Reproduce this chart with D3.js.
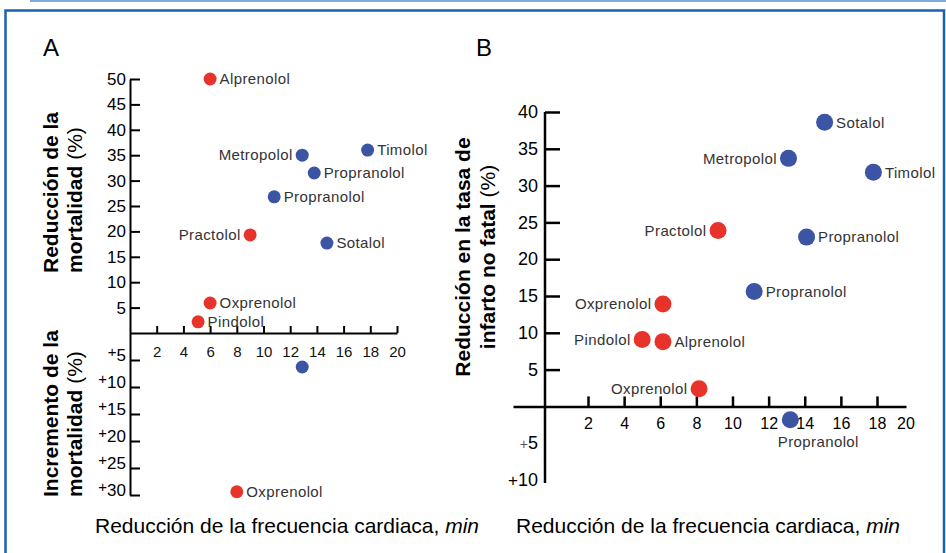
<!DOCTYPE html>
<html>
<head>
<meta charset="utf-8">
<script src="https://cdn.jsdelivr.net/npm/d3@7"></script>
<style>
  body { margin: 0; background: #fff; }
  text { font-family: "Liberation Sans", Arial, sans-serif; }
</style>
</head>
<body>
<div id="chart"></div>
<script>
// panel A: mortality vs heart rate reduction
const drugsA = ["Alprenolol", "Metropolol", "Timolol", "Propranolol", "Propranolol", "Practolol",
  "Sotalol", "Oxprenolol", "Pindolol", "", "Oxprenolol"];
const rateA = [6.0, 12.9, 17.8, 13.8, 10.8, 9.0, 14.75, 6.0, 5.1, 12.9, 8.0];
const mortA = [50, 35, 36, 31.5, 26.8, 19.3, 17.7, 5.9, 2.2, -6.3, -29.4];
const isaA = [true, false, false, false, false, true, false, true, true, false, true];

// panel B: non fatal infarction vs heart rate reduction
const drugsB = ["Sotalol", "Metropolol", "Timolol", "Practolol", "Propranolol", "Propranolol",
  "Oxprenolol", "Pindolol", "Alprenolol", "Oxprenolol", "Propranolol"];
const rateB = [15.1, 13.1, 17.8, 9.2, 14.1, 11.2, 6.15, 5.0, 6.15, 8.15, 13.2];
const infartB = [38.6, 33.7, 31.8, 23.9, 23.0, 15.6, 13.9, 9.1, 8.8, 2.4, -1.8];
const isaB = [false, false, false, true, false, false, true, true, true, true, false];

// tick values
const xTicks = [2, 4, 6, 8, 10, 12, 14, 16, 18, 20];
const yTicksA = [50, 45, 40, 35, 30, 25, 20, 15, 10, 5];
const negTicksA = [-5, -10, -15, -20, -25, -30];
const yTicksB = [40, 35, 30, 25, 20, 15, 10, 5];
const negTicksB = [-5, -10];

const red = "#e8332b", blue = "#3b54a3";

const svg = d3.select("#chart")
  .append("svg")
  .attr("width", 946)
  .attr("height", 553);

// frame
svg.append("line")
  .attr("x1", 30).attr("x2", 946).attr("y1", 1).attr("y2", 1)
  .attr("stroke", "#7fabd8").attr("stroke-width", 2);
svg.append("path")
  .attr("d", "M5.5,560V10.5H944V560")
  .attr("fill", "none")
  .attr("stroke", "#1b62b3")
  .attr("stroke-width", 2.5);

// ---------- panel A ----------
const xA = d3.scaleLinear().domain([0, 20]).range([130, 397]);
const yA = d3.scaleLinear().domain([-30, 0, 50]).range([495, 333, 79]);

const gA = svg.append("g");

// y axis, ticks to the right, labels on the left
const yAxisA = gA.append("g")
  .attr("transform", `translate(${xA(0)},0)`)
  .call(d3.axisRight(yA).tickValues(yTicksA.concat(negTicksA)).tickSize(10).tickSizeOuter(0)
    .tickFormat(d => d > 0 ? d : Math.abs(d)));
yAxisA.selectAll("text")
  .attr("x", -4)
  .attr("text-anchor", "end")
  .attr("font-size", 17)
  .attr("fill", "#000");
// negative side shows "+n"
yAxisA.selectAll(".tick").filter(d => d < 0).select("text")
  .each(function (d) {
    const t = d3.select(this).text("");
    t.append("tspan").attr("font-size", 15).attr("dy", "-0.25em").text("+");
    t.append("tspan").attr("dy", "0.25em").text(Math.abs(d));
  });

// x axis, ticks up, labels below
const xAxisA = gA.append("g")
  .attr("transform", `translate(0,${yA(0)})`)
  .call(d3.axisBottom(xA).tickValues(xTicks).tickSize(-7).tickSizeOuter(0).tickPadding(13));
xAxisA.selectAll("text").attr("font-size", 15).attr("fill", "#111");

gA.selectAll(".domain, .tick line").attr("stroke", "#000").attr("stroke-width", 2);

// ---------- panel B ----------
const xB = d3.scaleLinear().domain([-1.5, 0, 2, 18, 20]).range([513, 545, 588, 877, 906]);
const yB = d3.scaleLinear().domain([-10, 40]).range([480, 112]);

const gB = svg.append("g");

const yAxisB = gB.append("g")
  .attr("transform", `translate(${xB(0)},0)`)
  .call(d3.axisRight(yB).tickValues(yTicksB.concat(negTicksB)).tickSize(15).tickSizeOuter(0));
yAxisB.selectAll("text")
  .attr("x", -7)
  .attr("text-anchor", "end")
  .attr("font-size", 18)
  .attr("fill", "#000");
yAxisB.selectAll(".tick").filter(d => d < 0)
  .each(function (d) {
    const tk = d3.select(this);
    tk.select("line").remove();
    const t = tk.select("text").text("");
    t.append("tspan").attr("font-size", d === -5 ? 14 : 17).attr("fill", d === -5 ? "#555" : "#000").text("+");
    t.append("tspan").text(Math.abs(d));
  });
yAxisB.select(".domain").attr("d", `M0,${yB(-10.4)}V${yB(40)}`);

const xAxisB = gB.append("g")
  .attr("transform", `translate(0,${yB(0)})`)
  .call(d3.axisBottom(xB).tickValues(xTicks.slice(0, 9)).tickSize(-10).tickSizeOuter(0).tickPadding(11));
xAxisB.selectAll("text").attr("font-size", 16).attr("fill", "#000");
// last label without a tick
xAxisB.append("text")
  .attr("x", xB(20)).attr("y", 11).attr("dy", "0.71em")
  .attr("text-anchor", "middle").attr("font-size", 16).attr("fill", "#000")
  .text(xTicks[9]);

gB.selectAll(".domain, .tick line").attr("stroke", "#000").attr("stroke-width", 2.5);

// ---------- points ----------
function drawPoints(g, x, y, names, rate, val, isa, r, sides) {
  const pts = names.map((n, i) => ({ name: n, x: rate[i], y: val[i], isa: isa[i], side: sides[i] }));
  g.selectAll("circle.pt")
    .data(pts)
    .join("circle")
    .attr("class", "pt")
    .attr("cx", d => x(d.x))
    .attr("cy", d => y(d.y))
    .attr("r", r)
    .attr("fill", d => d.isa ? red : blue);

  g.selectAll("text.lbl")
    .data(pts.filter(d => d.name !== ""))
    .join("text")
    .attr("class", "lbl")
    .attr("x", d => d.side === "left" ? x(d.x) - r - 3 : d.side === "below" ? x(d.x) + 28 : x(d.x) + r + 3)
    .attr("y", d => d.side === "below" ? y(d.y) + 27 : y(d.y))
    .attr("dy", d => d.side === "below" ? 0 : "0.35em")
    .attr("text-anchor", d => d.side === "left" ? "end" : d.side === "below" ? "middle" : "start")
    .attr("font-size", 15)
    .attr("letter-spacing", 0.4)
    .attr("fill", "#333")
    .text(d => d.name);
}

drawPoints(gA, xA, yA, drugsA, rateA, mortA, isaA, 6.5,
  ["right", "left", "right", "right", "right", "left", "right", "right", "right", "right", "right"]);
drawPoints(gB, xB, yB, drugsB, rateB, infartB, isaB, 8.5,
  ["right", "left", "right", "left", "right", "right", "left", "left", "right", "left", "below"]);

// ---------- titles ----------
svg.append("text").attr("x", 43).attr("y", 56).attr("font-size", 24).text("A");
svg.append("text").attr("x", 476).attr("y", 56).attr("font-size", 24).text("B");

function yTitle(x, y, anchor, bold, plain) {
  const t = svg.append("text")
    .attr("transform", `translate(${x},${y}) rotate(-90)`)
    .attr("text-anchor", anchor)
    .attr("font-size", 21)
    .attr("font-weight", "bold");
  t.append("tspan").text(bold);
  if (plain) t.append("tspan").attr("font-weight", "normal").text(plain);
}
yTitle(58, 273, "start", "Reducción de la");
yTitle(82, 273, "start", "mortalidad ", "(%)");
yTitle(58, 497, "start", "Incremento de la");
yTitle(82, 497, "start", "mortalidad ", "(%)");
yTitle(470, 257, "middle", "Reducción en la tasa de");
yTitle(495, 257, "middle", "infarto no fatal ", "(%)");

function xTitle(x) {
  const t = svg.append("text")
    .attr("x", x).attr("y", 533)
    .attr("font-size", 21);
  t.append("tspan").text("Reducción de la frecuencia cardiaca, ");
  t.append("tspan").attr("font-style", "italic").text("min");
}
xTitle(95);
xTitle(516);
</script>
</body>
</html>
